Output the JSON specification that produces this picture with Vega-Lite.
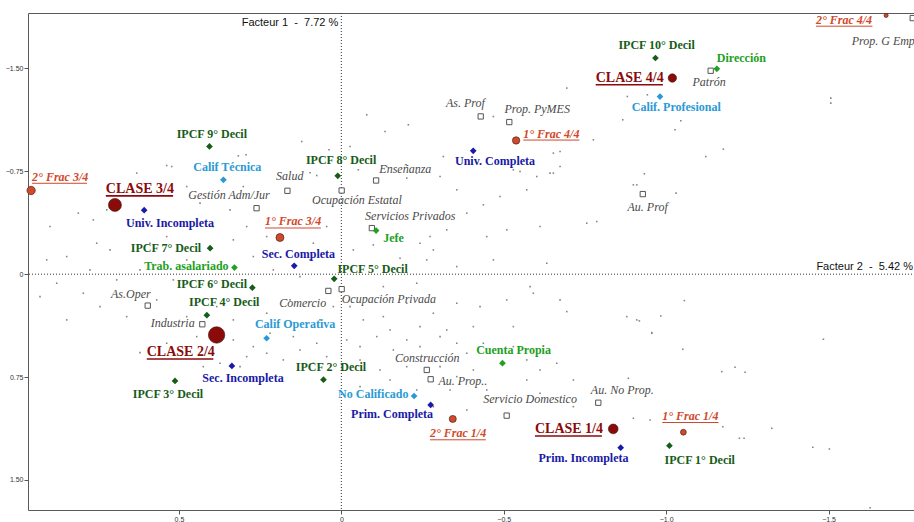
{
  "$schema": "https://vega.github.io/schema/vega-lite/v6.json",
  "width": 887,
  "height": 497,
  "autosize": {"type": "none"},
  "padding": {"left": 28, "top": 13, "right": 0, "bottom": 12},
  "background": "white",
  "config": {"view": {"stroke": "#5a5a5a", "strokeWidth": 1}},
  "datasets": {
    "individuos": [
      {"f2":0.5376,"f1":-0.7921},{"f2":0.5222,"f1":-0.7848},{"f2":0.6299,"f1":-0.7367},{"f2":0.2934,"f1":-0.8702},{"f2":0.3171,"f1":-0.8629},{"f2":0.1219,"f1":-0.9672},{"f2":0.0379,"f1":-0.9066},{"f2":0.0964,"f1":-0.7389},{"f2":0.0757,"f1":-0.7192},
      {"f2":-0.0782,"f1":-1.1619},{"f2":-0.1345,"f1":-1.0401},{"f2":-0.2063,"f1":-1.089},{"f2":-0.468,"f1":-1.1495},{"f2":-0.694,"f1":-1.3567},{"f2":-0.7759,"f1":-0.9796},{"f2":-0.6527,"f1":-0.8826},{"f2":-0.6733,"f1":-0.8942},{"f2":-0.314,"f1":-0.8578},{"f2":-0.5296,"f1":-0.7608},{"f2":-0.5502,"f1":-0.7484},{"f2":-0.6016,"f1":-0.7119},{"f2":-0.6527,"f1":-0.7367},{"f2":-0.0268,"f1":-0.9307},{"f2":-0.2321,"f1":-0.7367},
      {"f2":-0.8805,"f1":-1.2954},{"f2":-0.9421,"f1":-1.3078},{"f2":-1.0274,"f1":-1.0525},{"f2":-1.045,"f1":-1.1181},{"f2":-1.1761,"f1":-0.9117},{"f2":-1.1219,"f1":-0.8578},{"f2":-1.5068,"f1":-1.2837},{"f2":-1.5068,"f1":-1.2473},{"f2":-0.9329,"f1":-0.7316},{"f2":-0.8664,"f1":-1.1254},
      {"f2":0.8968,"f1":-0.3472},{"f2":0.8097,"f1":-0.4449},{"f2":0.7635,"f1":-0.3961},{"f2":0.7531,"f1":-0.2261},{"f2":0.8454,"f1":-0.1284},{"f2":0.8762,"f1":0.0656},{"f2":0.7943,"f1":0.1386},{"f2":0.7429,"f1":0.2363},{"f2":0.6607,"f1":0.3093},{"f2":0.5684,"f1":0.1875},{"f2":0.5172,"f1":0.0416},{"f2":0.476,"f1":-0.1043},{"f2":0.589,"f1":-0.2261},{"f2":0.5376,"f1":-0.2742},{"f2":0.3941,"f1":-0.3472},{"f2":0.3325,"f1":-0.2502},{"f2":0.2913,"f1":-0.3472},{"f2":0.3427,"f1":-0.469},{"f2":0.435,"f1":-0.5179},{"f2":0.476,"f1":-0.6389},{"f2":0.3017,"f1":-0.6389},{"f2":0.2297,"f1":-0.2742},{"f2":0.2709,"f1":-0.1284},{"f2":0.2094,"f1":-0.0314},{"f2":0.1272,"f1":0.0175},{"f2":0.0862,"f1":-0.2261},{"f2":0.045,"f1":-0.3472},{"f2":0.0757,"f1":-0.5179},{"f2":0.1579,"f1":0.1875},{"f2":0.2297,"f1":0.2845},{"f2":0.3325,"f1":0.3333},{"f2":0.3836,"f1":0.2363},{"f2":0.476,"f1":0.3093},{"f2":0.0656,"f1":0.3333},{"f2":0.0246,"f1":0.2363},{"f2":0.0964,"f1":-0.1043},{"f2":0.6198,"f1":-0.0314},{"f2":0.6915,"f1":0.0416},{"f2":0.7737,"f1":-0.0314},{"f2":0.907,"f1":-0.1043},{"f2":0.9277,"f1":0.1634},{"f2":0.8454,"f1":0.3333},{"f2":0.7121,"f1":-0.1772},{"f2":0.6404,"f1":-0.372},{"f2":0.7223,"f1":-0.469},
      {"f2":-0.0523,"f1":-0.7608},{"f2":-0.1398,"f1":-0.7848},{"f2":-0.2014,"f1":-0.7002},{"f2":-0.3039,"f1":-0.7119},{"f2":-0.3553,"f1":-0.6149},{"f2":-0.4372,"f1":-0.5055},{"f2":-0.4886,"f1":-0.566},{"f2":-0.5708,"f1":-0.6149},{"f2":-0.6118,"f1":-0.3472},{"f2":-0.5092,"f1":-0.3231},{"f2":-0.4477,"f1":-0.2742},{"f2":-0.3861,"f1":-0.4449},{"f2":-0.3245,"f1":-0.3231},{"f2":-0.2731,"f1":-0.2742},{"f2":-0.2423,"f1":-0.2261},{"f2":-0.2833,"f1":-0.1772},{"f2":-0.0369,"f1":-0.1772},{"f2":-0.0985,"f1":-0.2137},{"f2":-0.1807,"f1":-0.1167},{"f2":-0.2629,"f1":-0.1043},{"f2":-0.3553,"f1":-0.0554},{"f2":-0.468,"f1":-0.1043},{"f2":-0.6324,"f1":-0.0802},{"f2":-0.7555,"f1":-0.372},{"f2":-0.7863,"f1":-0.3837},{"f2":-0.6425,"f1":-0.7367},{"f2":-0.6733,"f1":-0.7848},{"f2":-0.899,"f1":-0.6513},{"f2":-0.0268,"f1":0.2363},{"f2":-0.0677,"f1":0.3333},{"f2":-0.1293,"f1":0.3093},{"f2":-0.2014,"f1":0.2115},{"f2":-0.2833,"f1":0.2845},{"f2":-0.3553,"f1":0.2115},{"f2":-0.427,"f1":0.2363},{"f2":-0.5092,"f1":0.1875},{"f2":-0.5911,"f1":0.1386},{"f2":-0.6733,"f1":0.1875},{"f2":-0.694,"f1":0.2728},{"f2":-0.8787,"f1":0.3093},{"f2":-0.9095,"f1":0.3333},{"f2":-0.2423,"f1":0.3822},{"f2":-0.3245,"f1":0.4063},{"f2":-0.4064,"f1":0.3822},{"f2":-0.1499,"f1":0.4063},{"f2":-0.5296,"f1":0.3822},{"f2":-0.581,"f1":0.0904},{"f2":-0.2321,"f1":0.0656},{"f2":-0.1293,"f1":0.0904},
      {"f2":-0.9095,"f1":-0.6513},{"f2":-1.0305,"f1":-0.5908},{"f2":-1.056,"f1":0.1926},{"f2":-0.9834,"f1":0.3042},{"f2":-0.9175,"f1":0.3406},{"f2":-0.9557,"f1":0.426},{"f2":-1.484,"f1":0.4741},
      {"f2":0.6198,"f1":0.5718},{"f2":0.5376,"f1":0.5033},{"f2":0.4452,"f1":0.4551},{"f2":0.3325,"f1":0.4792},{"f2":0.2709,"f1":0.5281},{"f2":0.2913,"f1":0.601},{"f2":0.2297,"f1":0.5762},{"f2":0.1786,"f1":0.6251},{"f2":0.1272,"f1":0.5521},{"f2":0.0757,"f1":0.5033},{"f2":0.045,"f1":0.601},{"f2":0.1478,"f1":0.4551},{"f2":0.3119,"f1":0.674},{"f2":0.4249,"f1":0.674},{"f2":0.3735,"f1":0.6492},{"f2":0.2195,"f1":0.4303},{"f2":0.0862,"f1":0.6492},
      {"f2":-0.0166,"f1":0.4792},{"f2":-0.0576,"f1":0.5281},{"f2":-0.109,"f1":0.4551},{"f2":-0.1601,"f1":0.5521},{"f2":-0.2014,"f1":0.4792},{"f2":-0.2423,"f1":0.5281},{"f2":-0.3039,"f1":0.4551},{"f2":-0.3553,"f1":0.5033},{"f2":-0.3861,"f1":0.5762},{"f2":-0.4372,"f1":0.5033},{"f2":-0.5296,"f1":0.5281},{"f2":-0.5708,"f1":0.6251},{"f2":-0.6118,"f1":0.698},{"f2":-0.6632,"f1":0.6492},{"f2":-0.7143,"f1":0.771},{"f2":-0.5708,"f1":0.771},{"f2":-0.4064,"f1":0.698},{"f2":-0.3553,"f1":0.7469},{"f2":-0.3039,"f1":0.674},{"f2":-0.2014,"f1":0.674},{"f2":-0.1192,"f1":0.698},{"f2":-0.0576,"f1":0.6251},{"f2":-0.1499,"f1":0.771},{"f2":-0.2321,"f1":0.8439},{"f2":-0.3347,"f1":0.8439},{"f2":-0.4477,"f1":0.8439},{"f2":-0.6118,"f1":0.868},{"f2":-0.7143,"f1":0.9657},{"f2":-0.899,"f1":1.0503},{"f2":-0.0576,"f1":0.8198},{"f2":-0.2833,"f1":0.9657},{"f2":-0.3861,"f1":0.9898},
      {"f2":-0.9557,"f1":0.4303},{"f2":-1.0511,"f1":0.547},{"f2":-1.1712,"f1":0.7104},{"f2":-1.2121,"f1":0.6783},{"f2":-1.2429,"f1":0.7148},{"f2":-0.9504,"f1":1.0627},{"f2":-1.1743,"f1":1.1116},{"f2":-1.3251,"f1":1.1233},{"f2":-1.2254,"f1":1.1962},{"f2":-1.2398,"f1":1.1962},{"f2":-1.4514,"f1":1.2618},{"f2":-1.5025,"f1":1.2742},{"f2":-1.6278,"f1":1.7024},{"f2":-0.8836,"f1":0.7586}
    ],
    "modalidades": [
      {"etiqueta":"CLASE 3/4","grupo":"Clase","f2":0.697,"f1":-0.505,"lx":0.725,"lx2":0.518,"ly":-0.593,"peso":17},
      {"etiqueta":"CLASE 2/4","grupo":"Clase","f2":0.384,"f1":0.443,"lx":0.599,"lx2":0.394,"ly":0.596,"peso":27},
      {"etiqueta":"CLASE 4/4","grupo":"Clase","f2":-1.019,"f1":-1.430,"lx":-0.783,"lx2":-0.990,"ly":-1.403,"peso":7},
      {"etiqueta":"CLASE 1/4","grupo":"Clase","f2":-0.837,"f1":1.128,"lx":-0.596,"lx2":-0.802,"ly":1.158,"peso":9.5},
      {"etiqueta":"2° Frac 3/4","grupo":"Fraccion","f2":0.955,"f1":-0.610,"lx":0.952,"lx2":0.783,"ly":-0.681,"peso":7},
      {"etiqueta":"1° Frac 3/4","grupo":"Fraccion","f2":0.189,"f1":-0.267,"lx":0.235,"lx2":0.063,"ly":-0.355,"peso":6.4},
      {"etiqueta":"1° Frac 4/4","grupo":"Fraccion","f2":-0.538,"f1":-0.975,"lx":-0.560,"lx2":-0.733,"ly":-0.996,"peso":5.5},
      {"etiqueta":"2° Frac 4/4","grupo":"Fraccion","f2":-1.677,"f1":-1.886,"lx":-1.461,"lx2":-1.635,"ly":-1.826,"peso":1.7},
      {"etiqueta":"2° Frac 1/4","grupo":"Fraccion","f2":-0.343,"f1":1.055,"lx":-0.273,"lx2":-0.445,"ly":1.189,"peso":5},
      {"etiqueta":"1° Frac 1/4","grupo":"Fraccion","f2":-1.053,"f1":1.152,"lx":-0.988,"lx2":-1.161,"ly":1.063,"peso":3.4},
      {"etiqueta":"IPCF 9° Decil","grupo":"IPCF","f2":0.406,"f1":-0.931,"lx":0.507,"ly":-0.996},
      {"etiqueta":"IPCF 8° Decil","grupo":"IPCF","f2":0.011,"f1":-0.717,"lx":0.109,"ly":-0.801},
      {"etiqueta":"IPCF 10° Decil","grupo":"IPCF","f2":-0.967,"f1":-1.576,"lx":-0.853,"ly":-1.641},
      {"etiqueta":"IPCF 7° Decil","grupo":"IPCF","f2":0.404,"f1":-0.190,"lx":0.648,"ly":-0.161},
      {"etiqueta":"IPCF 6° Decil","grupo":"IPCF","f2":0.274,"f1":0.098,"lx":0.507,"ly":0.100},
      {"etiqueta":"IPCF 5° Decil","grupo":"IPCF","f2":0.022,"f1":0.034,"lx":0.012,"ly":-0.007},
      {"etiqueta":"IPCF 4° Decil","grupo":"IPCF","f2":0.414,"f1":0.299,"lx":0.469,"ly":0.229},
      {"etiqueta":"IPCF 3° Decil","grupo":"IPCF","f2":0.512,"f1":0.778,"lx":0.642,"ly":0.905},
      {"etiqueta":"IPCF 2° Decil","grupo":"IPCF","f2":0.055,"f1":0.769,"lx":0.140,"ly":0.705},
      {"etiqueta":"IPCF 1° Decil","grupo":"IPCF","f2":-1.010,"f1":1.250,"lx":-0.995,"ly":1.384},
      {"etiqueta":"Dirección","grupo":"Categoria","f2":-1.156,"f1":-1.497,"lx":-1.156,"ly":-1.546},
      {"etiqueta":"Jefe","grupo":"Categoria","f2":-0.107,"f1":-0.318,"lx":-0.129,"ly":-0.238},
      {"etiqueta":"Trab. asalariado","grupo":"Categoria","f2":0.329,"f1":-0.048,"lx":0.607,"ly":-0.031},
      {"etiqueta":"Cuenta Propia","grupo":"Categoria","f2":-0.496,"f1":0.649,"lx":-0.415,"ly":0.581},
      {"etiqueta":"Calif Técnica","grupo":"Calificacion","f2":0.363,"f1":-0.688,"lx":0.456,"ly":-0.754},
      {"etiqueta":"Calif. Profesional","grupo":"Calificacion","f2":-0.981,"f1":-1.295,"lx":-0.894,"ly":-1.191},
      {"etiqueta":"Calif Operativa","grupo":"Calificacion","f2":0.230,"f1":0.467,"lx":0.266,"ly":0.394},
      {"etiqueta":"No Calificado","grupo":"Calificacion","f2":-0.224,"f1":0.888,"lx":0.010,"ly":0.905},
      {"etiqueta":"Univ. Completa","grupo":"Educacion","f2":-0.406,"f1":-0.899,"lx":-0.350,"ly":-0.797},
      {"etiqueta":"Univ. Incompleta","grupo":"Educacion","f2":0.607,"f1":-0.467,"lx":0.663,"ly":-0.347},
      {"etiqueta":"Sec. Completa","grupo":"Educacion","f2":0.145,"f1":-0.061,"lx":0.245,"ly":-0.117},
      {"etiqueta":"Sec. Incompleta","grupo":"Educacion","f2":0.337,"f1":0.669,"lx":0.428,"ly":0.783},
      {"etiqueta":"Prim. Completa","grupo":"Educacion","f2":-0.275,"f1":0.953,"lx":-0.030,"ly":1.050},
      {"etiqueta":"Prim. Incompleta","grupo":"Educacion","f2":-0.860,"f1":1.265,"lx":-0.607,"ly":1.371},
      {"etiqueta":"As. Prof","grupo":"Rama","f2":-0.429,"f1":-1.150,"lx":-0.322,"ly":-1.220},
      {"etiqueta":"Prop. PyMES","grupo":"Rama","f2":-0.517,"f1":-1.109,"lx":-0.502,"ly":-1.174},
      {"etiqueta":"Patrón","grupo":"Rama","f2":-1.137,"f1":-1.483,"lx":-1.081,"ly":-1.373},
      {"etiqueta":"Prop. G Emp","grupo":"Rama","f2":-1.759,"f1":-1.867,"lx":-1.571,"ly":-1.673},
      {"etiqueta":"Enseñanza","grupo":"Rama","f2":-0.107,"f1":-0.683,"lx":-0.117,"ly":-0.741},
      {"etiqueta":"Salud","grupo":"Rama","f2":0.166,"f1":-0.608,"lx":0.201,"ly":-0.683},
      {"etiqueta":"Gestión Adm/Jur","grupo":"Rama","f2":0.261,"f1":-0.481,"lx":0.471,"ly":-0.547},
      {"etiqueta":"Ocupación Estatal","grupo":"Rama","f2":-0.001,"f1":-0.610,"lx":0.090,"ly":-0.511},
      {"etiqueta":"Servicios Privados","grupo":"Rama","f2":-0.094,"f1":-0.336,"lx":-0.073,"ly":-0.396},
      {"etiqueta":"Comercio","grupo":"Rama","f2":0.040,"f1":0.122,"lx":0.191,"ly":0.236},
      {"etiqueta":"Ocupación Privada","grupo":"Rama","f2":-0.001,"f1":0.109,"lx":-0.001,"ly":0.212},
      {"etiqueta":"As.Oper","grupo":"Rama","f2":0.596,"f1":0.229,"lx":0.709,"ly":0.171},
      {"etiqueta":"Industria","grupo":"Rama","f2":0.428,"f1":0.365,"lx":0.587,"ly":0.382},
      {"etiqueta":"Au. Prof","grupo":"Rama","f2":-0.928,"f1":-0.584,"lx":-0.881,"ly":-0.457},
      {"etiqueta":"Construcción","grupo":"Rama","f2":-0.263,"f1":0.698,"lx":-0.165,"ly":0.638},
      {"etiqueta":"Au. Prop..","grupo":"Rama","f2":-0.275,"f1":0.766,"lx":-0.299,"ly":0.807},
      {"etiqueta":"Servicio Domestico","grupo":"Rama","f2":-0.509,"f1":1.031,"lx":-0.437,"ly":0.937},
      {"etiqueta":"Au. No Prop.","grupo":"Rama","f2":-0.791,"f1":0.937,"lx":-0.768,"ly":0.875}
    ]
  },
  "layer": [
    {
      "data": {"name": "individuos"},
      "mark": {"type": "square", "size": 2.5, "color": "#858585", "opacity": 1},
      "encoding": {
        "x": {"field": "f2", "type": "quantitative", "title": null,
              "scale": {"domain": [-1.766, 0.9646], "reverse": true, "nice": false, "zero": false},
              "axis": {"orient": "bottom", "values": [0.5, 0, -0.5, -1, -1.5], "labelExpr": "datum.value == 0 ? '0' : format(datum.value, '.1f')", "grid": false, "domain": false, "tickSize": 4, "tickColor": "#555", "labelFontSize": 7, "labelFont": "Liberation Sans", "labelColor": "#333", "labelPadding": 1, "title": null}},
        "y": {"field": "f1", "type": "quantitative", "title": null,
              "scale": {"domain": [-1.904, 1.719], "reverse": true, "nice": false, "zero": false},
              "axis": {"orient": "left", "values": [-1.5, -0.75, 0, 0.75, 1.5], "labelExpr": "datum.value == 0 ? '0' : format(datum.value, '.2f')", "grid": false, "domain": false, "tickSize": 4, "tickColor": "#555", "labelFontSize": 7, "labelFont": "Liberation Sans", "labelColor": "#333", "labelPadding": 1, "title": null}}
      }
    },
    {
      "data": {"values": [{"cero": 0}]},
      "mark": {"type": "rule", "color": "#333", "strokeDash": [1, 2], "strokeWidth": 1},
      "encoding": {"x": {"field": "cero", "type": "quantitative", "title": null, "scale": {"domain": [-1.766, 0.9646], "reverse": true, "nice": false, "zero": false}}}
    },
    {
      "data": {"values": [{"cero": 0}]},
      "mark": {"type": "rule", "color": "#333", "strokeDash": [1, 2], "strokeWidth": 1},
      "encoding": {"y": {"field": "cero", "type": "quantitative", "title": null, "scale": {"domain": [-1.904, 1.719], "reverse": true, "nice": false, "zero": false}}}
    },
    {
      "data": {"values": [{"eje": "Facteur 1\u00a0 -\u00a0 7.72 %", "px": 0, "py": -1.904}]},
      "mark": {"type": "text", "align": "right", "baseline": "alphabetic", "dx": -3, "dy": 13, "font": "Liberation Sans", "fontSize": 11, "color": "#111"},
      "encoding": {
        "x": {"field": "px", "type": "quantitative", "title": null, "scale": {"domain": [-1.766, 0.9646], "reverse": true, "nice": false, "zero": false}},
        "y": {"field": "py", "type": "quantitative", "title": null, "scale": {"domain": [-1.904, 1.719], "reverse": true, "nice": false, "zero": false}},
        "text": {"field": "eje", "type": "nominal"}
      }
    },
    {
      "data": {"values": [{"eje": "Facteur 2\u00a0 -\u00a0 5.42 %", "px": -1.766, "py": 0}]},
      "mark": {"type": "text", "align": "right", "baseline": "alphabetic", "dx": -2, "dy": -4, "font": "Liberation Sans", "fontSize": 11, "color": "#111"},
      "encoding": {
        "x": {"field": "px", "type": "quantitative", "title": null, "scale": {"domain": [-1.766, 0.9646], "reverse": true, "nice": false, "zero": false}},
        "y": {"field": "py", "type": "quantitative", "title": null, "scale": {"domain": [-1.904, 1.719], "reverse": true, "nice": false, "zero": false}},
        "text": {"field": "eje", "type": "nominal"}
      }
    },
    {
      "data": {"name": "modalidades"},
      "transform": [{"filter": "datum.grupo == 'Rama'"}],
      "mark": {"type": "point", "shape": "square", "size": 28, "filled": true, "fill": "white", "stroke": "#555", "strokeWidth": 1, "opacity": 1},
      "encoding": {
        "x": {"field": "f2", "type": "quantitative", "title": null, "scale": {"domain": [-1.766, 0.9646], "reverse": true, "nice": false, "zero": false}},
        "y": {"field": "f1", "type": "quantitative", "title": null, "scale": {"domain": [-1.904, 1.719], "reverse": true, "nice": false, "zero": false}}
      }
    },
    {
      "data": {"name": "modalidades"},
      "transform": [{"filter": "datum.grupo == 'IPCF' || datum.grupo == 'Categoria' || datum.grupo == 'Calificacion' || datum.grupo == 'Educacion'"}],
      "mark": {"type": "point", "shape": "diamond", "size": 45, "filled": true, "opacity": 1},
      "encoding": {
        "x": {"field": "f2", "type": "quantitative", "title": null, "scale": {"domain": [-1.766, 0.9646], "reverse": true, "nice": false, "zero": false}},
        "y": {"field": "f1", "type": "quantitative", "title": null, "scale": {"domain": [-1.904, 1.719], "reverse": true, "nice": false, "zero": false}},
        "color": {"field": "grupo", "type": "nominal", "legend": null,
                  "scale": {"domain": ["Clase", "Fraccion", "IPCF", "Categoria", "Calificacion", "Educacion", "Rama"], "range": ["#8b0a0a", "#cf4a2c", "#175c17", "#21a021", "#2a9ad6", "#1a1aa6", "#505050"]}}
      }
    },
    {
      "data": {"name": "modalidades"},
      "transform": [{"filter": "datum.grupo == 'Clase' || datum.grupo == 'Fraccion'"}],
      "mark": {"type": "point", "shape": "circle", "filled": true, "opacity": 1, "stroke": "#3a1a10", "strokeWidth": 0.6},
      "encoding": {
        "x": {"field": "f2", "type": "quantitative", "title": null, "scale": {"domain": [-1.766, 0.9646], "reverse": true, "nice": false, "zero": false}},
        "y": {"field": "f1", "type": "quantitative", "title": null, "scale": {"domain": [-1.904, 1.719], "reverse": true, "nice": false, "zero": false}},
        "size": {"field": "peso", "type": "quantitative", "legend": null, "scale": {"type": "linear", "domain": [0, 30], "range": [0, 300], "zero": true}},
        "color": {"field": "grupo", "type": "nominal", "legend": null}
      }
    },
    {
      "data": {"name": "modalidades"},
      "transform": [{"filter": "datum.grupo == 'IPCF' || datum.grupo == 'Categoria' || datum.grupo == 'Calificacion' || datum.grupo == 'Educacion'"}],
      "mark": {"type": "text", "align": "left", "baseline": "alphabetic", "font": "Liberation Serif", "fontSize": 12, "fontWeight": "bold"},
      "encoding": {
        "x": {"field": "lx", "type": "quantitative", "title": null, "scale": {"domain": [-1.766, 0.9646], "reverse": true, "nice": false, "zero": false}},
        "y": {"field": "ly", "type": "quantitative", "title": null, "scale": {"domain": [-1.904, 1.719], "reverse": true, "nice": false, "zero": false}},
        "text": {"field": "etiqueta", "type": "nominal"},
        "color": {"field": "grupo", "type": "nominal", "legend": null}
      }
    },
    {
      "data": {"name": "modalidades"},
      "transform": [{"filter": "datum.grupo == 'Rama'"}],
      "mark": {"type": "text", "align": "left", "baseline": "alphabetic", "font": "Liberation Serif", "fontSize": 12, "fontStyle": "italic", "color": "#4a4a4a"},
      "encoding": {
        "x": {"field": "lx", "type": "quantitative", "title": null, "scale": {"domain": [-1.766, 0.9646], "reverse": true, "nice": false, "zero": false}},
        "y": {"field": "ly", "type": "quantitative", "title": null, "scale": {"domain": [-1.904, 1.719], "reverse": true, "nice": false, "zero": false}},
        "text": {"field": "etiqueta", "type": "nominal"}
      }
    },
    {
      "data": {"name": "modalidades"},
      "transform": [{"filter": "datum.grupo == 'Clase'"}],
      "mark": {"type": "text", "align": "left", "baseline": "alphabetic", "font": "Liberation Serif", "fontSize": 14, "fontWeight": "bold"},
      "encoding": {
        "x": {"field": "lx", "type": "quantitative", "title": null, "scale": {"domain": [-1.766, 0.9646], "reverse": true, "nice": false, "zero": false}},
        "y": {"field": "ly", "type": "quantitative", "title": null, "scale": {"domain": [-1.904, 1.719], "reverse": true, "nice": false, "zero": false}},
        "text": {"field": "etiqueta", "type": "nominal"},
        "color": {"field": "grupo", "type": "nominal", "legend": null}
      }
    },
    {
      "data": {"name": "modalidades"},
      "transform": [{"filter": "datum.grupo == 'Fraccion'"}],
      "mark": {"type": "text", "align": "left", "baseline": "alphabetic", "font": "Liberation Serif", "fontSize": 12, "fontWeight": "bold", "fontStyle": "italic"},
      "encoding": {
        "x": {"field": "lx", "type": "quantitative", "title": null, "scale": {"domain": [-1.766, 0.9646], "reverse": true, "nice": false, "zero": false}},
        "y": {"field": "ly", "type": "quantitative", "title": null, "scale": {"domain": [-1.904, 1.719], "reverse": true, "nice": false, "zero": false}},
        "text": {"field": "etiqueta", "type": "nominal"},
        "color": {"field": "grupo", "type": "nominal", "legend": null}
      }
    },
    {
      "data": {"name": "modalidades"},
      "transform": [{"filter": "datum.grupo == 'Clase'"}],
      "mark": {"type": "rule", "yOffset": 3, "strokeWidth": 1.6},
      "encoding": {
        "x": {"field": "lx", "type": "quantitative", "title": null, "scale": {"domain": [-1.766, 0.9646], "reverse": true, "nice": false, "zero": false}},
        "x2": {"field": "lx2"},
        "y": {"field": "ly", "type": "quantitative", "title": null, "scale": {"domain": [-1.904, 1.719], "reverse": true, "nice": false, "zero": false}},
        "color": {"field": "grupo", "type": "nominal", "legend": null}
      }
    },
    {
      "data": {"name": "modalidades"},
      "transform": [{"filter": "datum.grupo == 'Fraccion'"}],
      "mark": {"type": "rule", "yOffset": 2.5, "strokeWidth": 1},
      "encoding": {
        "x": {"field": "lx", "type": "quantitative", "title": null, "scale": {"domain": [-1.766, 0.9646], "reverse": true, "nice": false, "zero": false}},
        "x2": {"field": "lx2"},
        "y": {"field": "ly", "type": "quantitative", "title": null, "scale": {"domain": [-1.904, 1.719], "reverse": true, "nice": false, "zero": false}},
        "color": {"field": "grupo", "type": "nominal", "legend": null}
      }
    }
  ]
}
